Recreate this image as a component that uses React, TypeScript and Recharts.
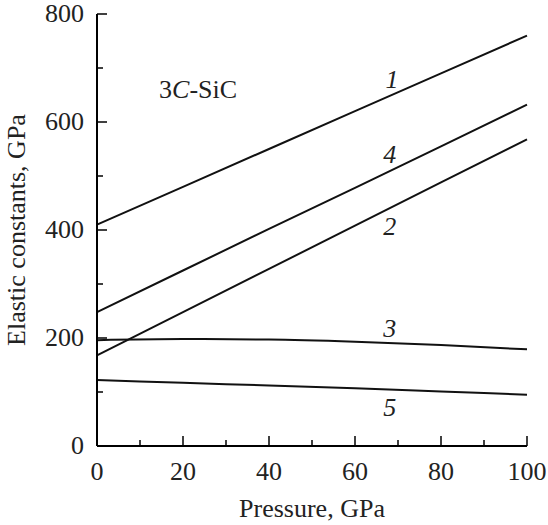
import { LineChart, Line, XAxis, YAxis, ReferenceDot, Label } from 'recharts'

const pressure = [0, 20, 40, 60, 80, 100]
const c1 = [410, 480, 550, 620, 690, 760]
const c4 = [248, 325, 402, 478, 555, 632]
const c2 = [168, 248, 328, 408, 488, 568]
const c3 = [196, 198, 197, 193, 187, 179]
const c5 = [122, 117, 112, 107, 101, 95]

const xTicks = [0, 10, 20, 30, 40, 50, 60, 70, 80, 90, 100]
const yTicks = [0, 100, 200, 300, 400, 500, 600, 700, 800]

// curve number labels placed in data units
const curveLabels = [
  { name: '1', x: 68.6, y: 680 },
  { name: '4', x: 68.1, y: 540 },
  { name: '2', x: 68.1, y: 407 },
  { name: '3', x: 68.1, y: 218 },
  { name: '5', x: 68.1, y: 72 },
]

const FONT = '"Liberation Serif", "Times New Roman", serif'

const data = pressure.map((p, i) => ({ p, c1: c1[i], c4: c4[i], c2: c2[i], c3: c3[i], c5: c5[i] }))

const BottomTick = (props: any) => {
  const { x, y, payload } = props
  const major = payload.value % 20 === 0
  return (
    <g>
      <line x1={x} y1={y} x2={x} y2={y - (major ? 10 : 6)} stroke="#000" strokeWidth={1.5} />
      {major && (
        <text x={x} y={y + 34} textAnchor="middle" fontFamily={FONT} fontSize={26} fill="#222">
          {payload.value}
        </text>
      )}
    </g>
  )
}

const TopTick = (props: any) => {
  const { x, y, payload } = props
  const major = payload.value % 20 === 0
  return <line x1={x} y1={y} x2={x} y2={y + (major ? 10 : 6)} stroke="#000" strokeWidth={1.5} />
}

const LeftTick = (props: any) => {
  const { x, y, payload } = props
  const major = payload.value % 200 === 0
  return (
    <g>
      <line x1={x} y1={y} x2={x + (major ? 10 : 6)} y2={y} stroke="#000" strokeWidth={1.5} />
      {major && (
        <text x={x - 13} y={y + 8} textAnchor="end" fontFamily={FONT} fontSize={26} fill="#222">
          {payload.value}
        </text>
      )}
    </g>
  )
}

const RightTick = (props: any) => {
  const { x, y, payload } = props
  const major = payload.value % 200 === 0
  return <line x1={x} y1={y} x2={x - (major ? 10 : 6)} y2={y} stroke="#000" strokeWidth={1.5} />
}

export default function App() {
  return (
    <div style={{ position: 'absolute', left: 0, top: 0, width: 548, height: 525 }}>
      <LineChart width={548} height={525} data={data} margin={{ top: 14, right: 21, bottom: 29, left: 37 }}>
        <XAxis
          dataKey="p"
          type="number"
          domain={[0, 100]}
          ticks={xTicks}
          interval={0}
          tickSize={0}
          tickMargin={0}
          height={50}
          tick={<BottomTick />}
          axisLine={{ stroke: '#000', strokeWidth: 2 }}
        >
          <Label
            content={({ viewBox }: any) => (
              <text
                x={viewBox.x + viewBox.width / 2}
                y={viewBox.y + 71}
                textAnchor="middle"
                fontFamily={FONT}
                fontSize={26}
                fill="#222"
              >
                Pressure, GPa
              </text>
            )}
          />
        </XAxis>
        <XAxis
          xAxisId="top"
          orientation="top"
          dataKey="p"
          type="number"
          domain={[0, 100]}
          ticks={xTicks}
          interval={0}
          tickSize={0}
          tickMargin={0}
          height={0}
          tick={<TopTick />}
          axisLine={{ stroke: '#000', strokeWidth: 2 }}
        />
        <YAxis
          type="number"
          domain={[0, 800]}
          ticks={yTicks}
          interval={0}
          tickSize={0}
          tickMargin={0}
          width={60}
          tick={<LeftTick />}
          axisLine={{ stroke: '#000', strokeWidth: 2 }}
        >
          <Label
            content={({ viewBox }: any) => {
              const cx = 25
              const cy = viewBox.y + viewBox.height / 2
              return (
                <text
                  x={cx}
                  y={cy}
                  transform={`rotate(-90, ${cx}, ${cy})`}
                  textAnchor="middle"
                  fontFamily={FONT}
                  fontSize={26}
                  fill="#222"
                >
                  Elastic constants, GPa
                </text>
              )
            }}
          />
        </YAxis>
        <YAxis
          yAxisId="right"
          orientation="right"
          type="number"
          domain={[0, 800]}
          ticks={yTicks}
          interval={0}
          tickSize={0}
          tickMargin={0}
          width={0}
          tick={<RightTick />}
          axisLine={{ stroke: '#000', strokeWidth: 2 }}
        />
        <Line type="linear" dataKey="c1" stroke="#111" strokeWidth={2} dot={false} isAnimationActive={false} />
        <Line type="linear" dataKey="c4" stroke="#111" strokeWidth={2} dot={false} isAnimationActive={false} />
        <Line type="linear" dataKey="c2" stroke="#111" strokeWidth={2} dot={false} isAnimationActive={false} />
        <Line type="monotone" dataKey="c3" stroke="#111" strokeWidth={2} dot={false} isAnimationActive={false} />
        <Line type="monotone" dataKey="c5" stroke="#111" strokeWidth={2} dot={false} isAnimationActive={false} />
        {curveLabels.map(l => (
          <ReferenceDot
            key={l.name}
            x={l.x}
            y={l.y}
            shape={(p: any) => (
              <text
                x={p.cx}
                y={p.cy + 9}
                textAnchor="middle"
                fontFamily={FONT}
                fontStyle="italic"
                fontSize={26}
                fill="#222"
              >
                {l.name}
              </text>
            )}
          />
        ))}
        <ReferenceDot
          x={23.5}
          y={659}
          shape={(p: any) => (
            <text x={p.cx} y={p.cy + 8} textAnchor="middle" fontFamily={FONT} fontSize={26} fill="#222">
              3<tspan fontStyle="italic">C</tspan>-SiC
            </text>
          )}
        />
      </LineChart>
    </div>
  )
}
